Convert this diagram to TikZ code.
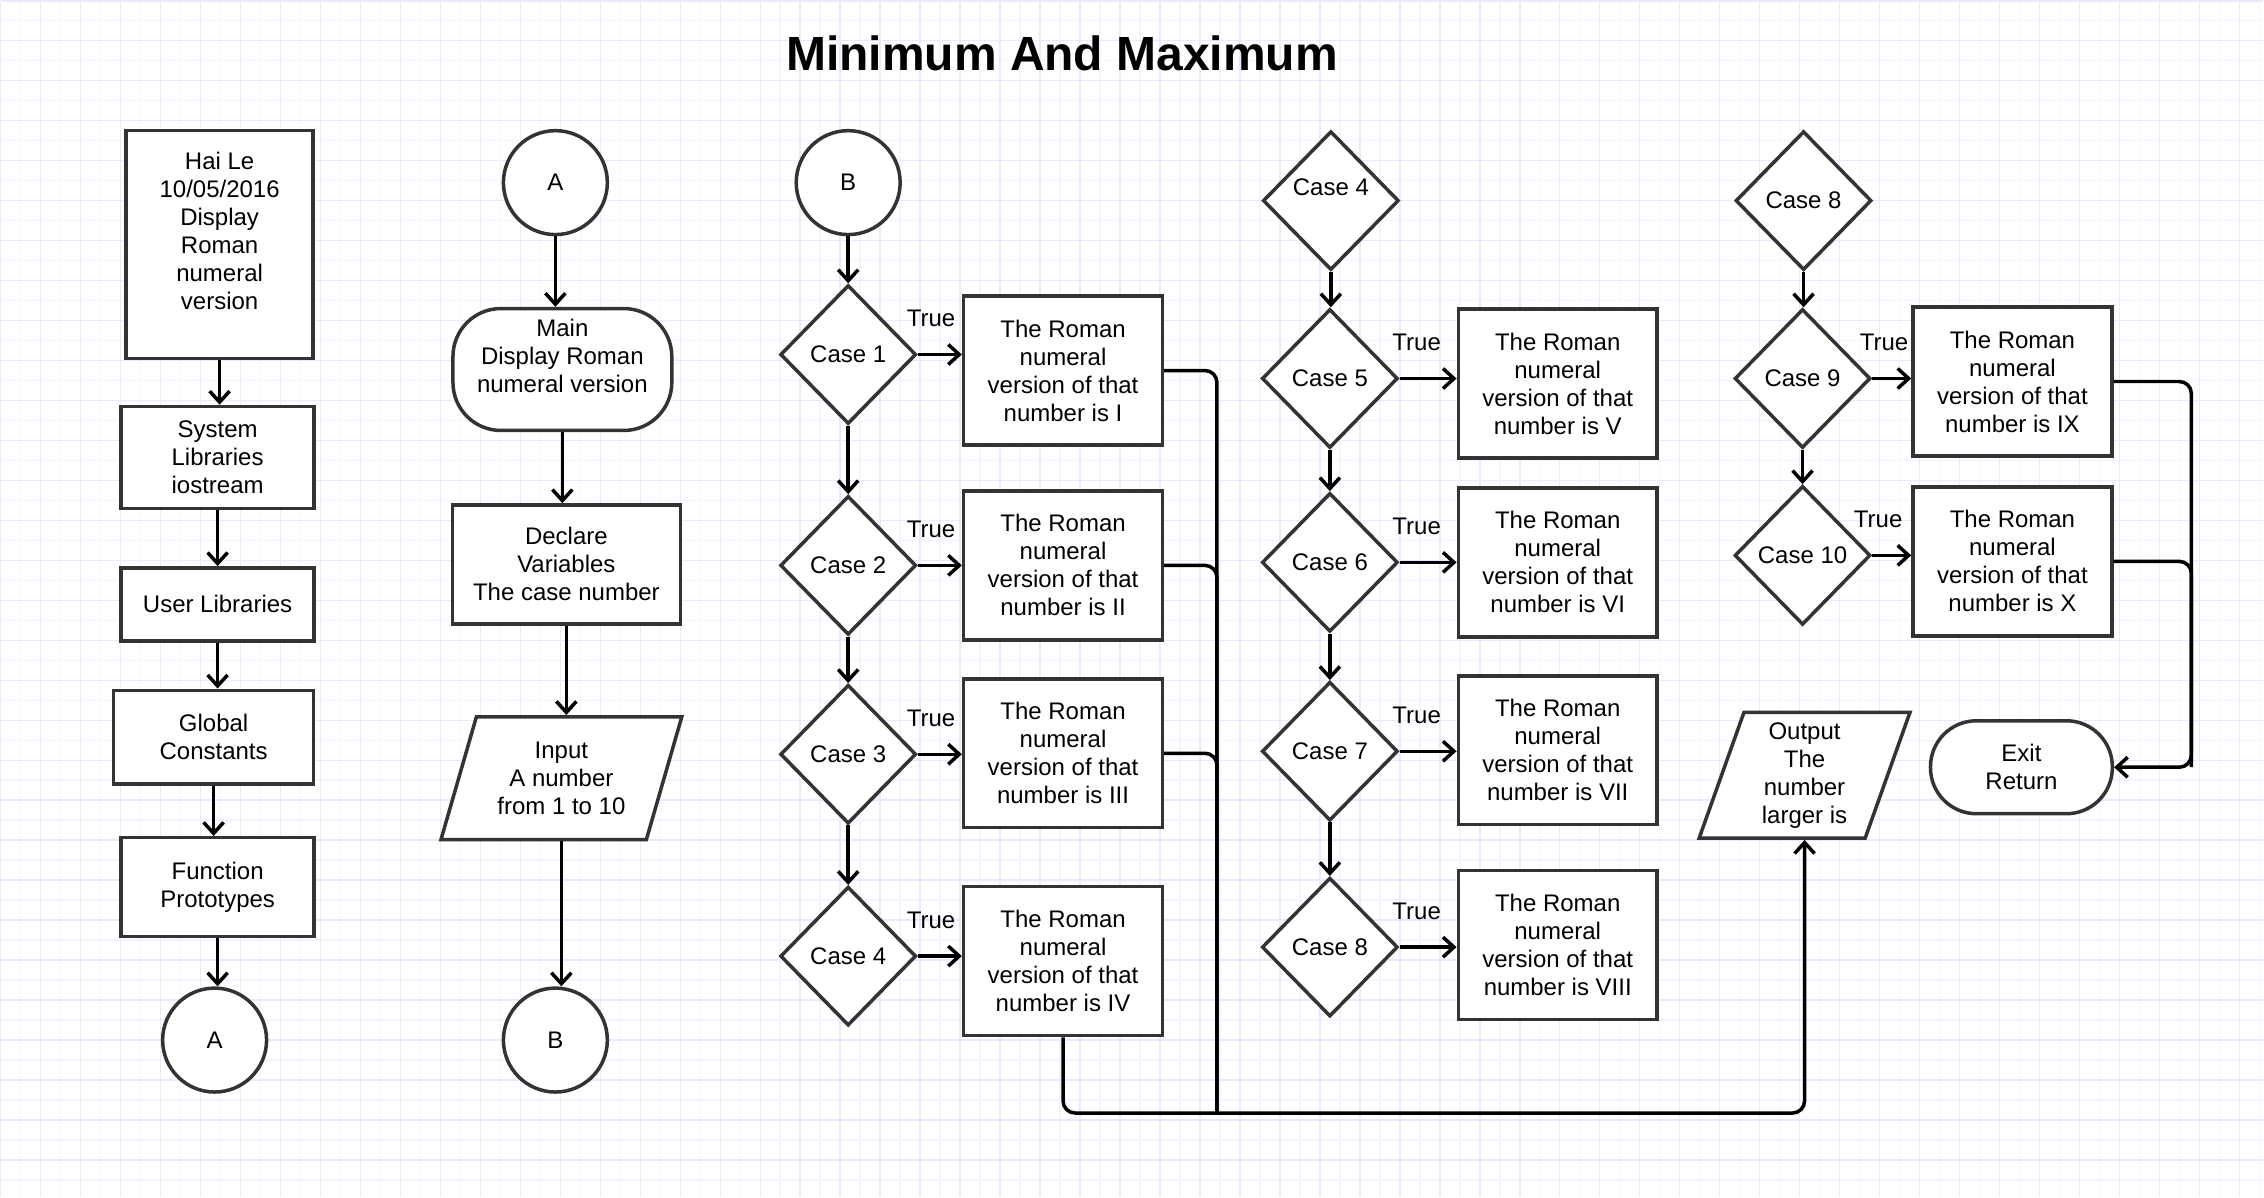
\documentclass[tikz,border=0pt]{standalone}
\usepackage{fontspec}
\setmainfont{Liberation Sans}
\usetikzlibrary{shapes.geometric,arrows.meta}
\definecolor{gridminor}{HTML}{F4F4FF}
\definecolor{gridmajor}{HTML}{E8E8FE}
\definecolor{edgegray}{HTML}{333333}
\begin{document}
\begin{tikzpicture}[x=1pt,y=-1pt,
	every node/.style={font=\fontsize{24}{28}\selectfont,align=center,inner sep=0pt},
	heading/.style={font=\fontsize{48}{56}\selectfont\bfseries},
	box/.style={rectangle,draw=edgegray,line width=3.5pt,fill=white,minimum width=199pt,minimum height=149pt},
	term/.style={rectangle,draw=edgegray,line width=3.5pt,fill=white},
	con/.style={circle,draw=edgegray,line width=3.5pt,fill=white,minimum size=104pt},
	dec/.style={diamond,draw=edgegray,line width=3.5pt,fill=white,minimum width=136pt,minimum height=139pt},
	io/.style={trapezium,trapezium stretches body,draw=edgegray,line width=3.5pt,fill=white},
	flow/.style={line width=3.5pt,-{Straight Barb[length=11pt,width=20pt]}},
	link/.style={line width=3.5pt,rounded corners=12pt}]
	\fill[white] (0,0) rectangle (2264,1197);
	\draw[gridminor,line width=1.5pt,step=20pt] (0,0) grid (2264,1197);
	\draw[gridmajor,line width=1.5pt,step=40pt] (0,0) grid (2264,1197);
	\useasboundingbox (0,0) rectangle (2264,1197);

	\node[heading] (ttl) at (1062,53) {Minimum And Maximum};

	\node[box,minimum width=187pt,minimum height=228pt] (hdr) at (219,244) {Hai Le\\10/05/2016\\Display\\Roman\\numeral\\version\\[-9pt]\strut};
	\node[box,minimum width=193pt,minimum height=102pt] (sys) at (217,457) {System\\Libraries\\iostream};
	\node[box,minimum width=193pt,minimum height=73pt] (usr) at (217,604) {User Libraries};
	\node[box,minimum width=200pt,minimum height=94pt] (glob) at (213,737) {Global\\Constants};
	\node[box,minimum width=193pt,minimum height=99pt] (proto) at (217,887) {Function\\Prototypes};
	\node[con] (outA) at (214,1040) {A};

	\node[con] (inA) at (555,182) {A};
	\node[term,rounded corners=48pt,minimum width=219pt,minimum height=122pt] (main) at (562,369) {Main\\Display Roman\\numeral version\\[-9pt]\strut};
	\node[box,minimum width=228pt,minimum height=119pt] (decl) at (566,564) {Declare\\Variables\\The case number};
	\node[io,trapezium left angle=64,trapezium right angle=116,minimum width=241pt,minimum height=123pt] (inp) at (561,778) {Input\\A number\\from 1 to 10};
	\node[con] (outB) at (555,1040) {B};

	\node[con] (inB) at (848,182) {B};
	\node[dec] (d1) at (848,354) {Case 1};
	\node[dec] (d2) at (848,565) {Case 2};
	\node[dec] (d3) at (848,754) {Case 3};
	\node[dec] (d4) at (848,956) {Case 4};
	\node[box] (c1) at (1063,370) {The Roman\\numeral\\version of that\\number is I};
	\node[box] (c2) at (1063,565) {The Roman\\numeral\\version of that\\number is II};
	\node[box] (c3) at (1063,753) {The Roman\\numeral\\version of that\\number is III};
	\node[box] (c4) at (1063,961) {The Roman\\numeral\\version of that\\number is IV};

	\node[dec] (in4) at (1331,200) {Case 4\\[-9pt]\strut};
	\node[dec] (d5) at (1330,378) {Case 5};
	\node[dec] (d6) at (1330,562) {Case 6};
	\node[dec] (d7) at (1330,751) {Case 7};
	\node[dec] (d8) at (1330,947) {Case 8};
	\node[box] (c5) at (1558,383) {The Roman\\numeral\\version of that\\number is V};
	\node[box] (c6) at (1558,562) {The Roman\\numeral\\version of that\\number is VI};
	\node[box] (c7) at (1558,750) {The Roman\\numeral\\version of that\\number is VII};
	\node[box] (c8) at (1558,945) {The Roman\\numeral\\version of that\\number is VIII};

	\node[dec] (in8) at (1804,200) {Case 8};
	\node[dec] (d9) at (1803,378) {Case 9};
	\node[dec] (d10) at (1803,555) {Case 10};
	\node[box] (c9) at (2013,381) {The Roman\\numeral\\version of that\\number is IX};
	\node[box] (c10) at (2013,561) {The Roman\\numeral\\version of that\\number is X};
	\node[io,trapezium left angle=67,trapezium right angle=113,minimum width=211pt,minimum height=126pt] (out) at (1805,775) {Output\\The\\number\\larger is};
	\node[term,rounded corners=46pt,minimum width=182pt,minimum height=93pt] (exit) at (2022,767) {Exit\\Return};

	\coordinate (jn1) at (1217,1113);
	\coordinate (jn2) at (2192,767);

	\draw[flow] (hdr.south) -- (hdr.south |- sys.north);
	\draw[flow] (sys.south) -- (sys.south |- usr.north);
	\draw[flow] (usr.south) -- (usr.south |- glob.north);
	\draw[flow] (glob.south) -- (glob.south |- proto.north);
	\draw[flow] (proto.south) -- (proto.south |- outA.north);

	\draw[flow] (inA.south) -- (inA.south |- main.north);
	\draw[flow] (main.south) -- (main.south |- decl.north);
	\draw[flow] (decl.south) -- (decl.south |- inp.north);
	\draw[flow] (inp.south) -- (inp.south |- outB.north);

	\draw[flow] (inB) -- (d1);
	\draw[flow] (d1) -- (d2);
	\draw[flow] (d2) -- (d3);
	\draw[flow] (d3) -- (d4);
	\draw[flow] (d1.east) -- (d1.east -| c1.west) node[above=26pt,pos=0.3] (t1) {True};
	\draw[flow] (d2.east) -- (d2.east -| c2.west) node[above=26pt,pos=0.3] (t2) {True};
	\draw[flow] (d3.east) -- (d3.east -| c3.west) node[above=26pt,pos=0.3] (t3) {True};
	\draw[flow] (d4.east) -- (d4.east -| c4.west) node[above=26pt,pos=0.3] (t4) {True};

	\draw[flow] (in4.south) -- (in4.south |- d5.north);
	\draw[flow] (d5) -- (d6);
	\draw[flow] (d6) -- (d7);
	\draw[flow] (d7) -- (d8);
	\draw[flow] (d5.east) -- (d5.east -| c5.west) node[above=26pt,pos=0.3] (t5) {True};
	\draw[flow] (d6.east) -- (d6.east -| c6.west) node[above=26pt,pos=0.3] (t6) {True};
	\draw[flow] (d7.east) -- (d7.east -| c7.west) node[above=26pt,pos=0.3] (t7) {True};
	\draw[flow] (d8.east) -- (d8.east -| c8.west) node[above=26pt,pos=0.3] (t8) {True};

	\draw[flow] (in8.south) -- (in8.south |- d9.north);
	\draw[flow] (d9) -- (d10);
	\draw[flow] (d9.east) -- (d9.east -| c9.west) node[above=26pt,pos=0.3] (t9) {True};
	\draw[flow] (d10.east) -- (d10.east -| c10.west) node[above=26pt,pos=0.15] (t10) {True};

	\draw[link] (c1.east) -| (jn1);
	\draw[link] (c2.east) -| (jn1);
	\draw[link] (c3.east) -| (jn1);
	\draw[link,flow] (c4.south) |- (jn1) -| (out.south);
	\draw[link,flow] (c9.east) -| (jn2) -- (exit.east);
	\draw[link] (c10.east) -| (jn2);
\end{tikzpicture}
\end{document}
